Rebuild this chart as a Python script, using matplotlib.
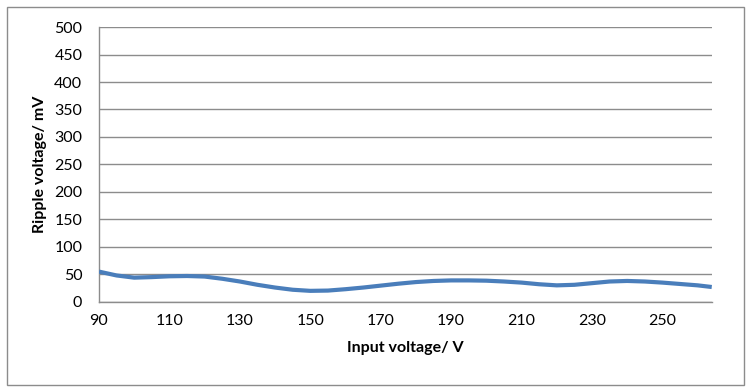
import matplotlib
matplotlib.use('Agg')
import matplotlib.pyplot as plt
from matplotlib.patches import Rectangle

# Input voltage (V) and ripple voltage (mV)
input_v = [90, 95, 100, 105, 110, 115, 120, 125, 130, 135, 140, 145, 150, 155,
           160, 165, 170, 175, 180, 185, 190, 195, 200, 205, 210, 215, 220, 225,
           230, 235, 240, 245, 250, 255, 260, 264]
ripple_mv = [55, 48, 44, 45, 46.5, 47, 46, 42, 37, 31, 26, 22, 20, 20.5,
             23, 26, 29.5, 33, 36, 38, 39, 39, 38.5, 37, 35, 32, 30, 31,
             34, 37, 38, 37, 35, 32.5, 30, 27]
x_ticks = [90, 110, 130, 150, 170, 190, 210, 230, 250]
y_ticks = list(range(0, 501, 50))

plt.rcParams['font.family'] = ['Lato', 'DejaVu Sans']

fig = plt.figure(figsize=(7.5, 3.92), dpi=100)
ax = fig.add_axes([0.132, 0.230, 0.817, 0.701])

# Plot the ripple curve
ax.plot(input_v, ripple_mv, color='#4A7EBB', linewidth=3.0,
        solid_capstyle='butt', solid_joinstyle='round', zorder=3)

ax.set_xlim(90, 264)
ax.set_ylim(0, 500)
ax.set_xticks(x_ticks)
ax.set_yticks(y_ticks)
ax.tick_params(axis='both', length=0, labelsize=11.5)
ax.tick_params(axis='y', pad=12)
ax.tick_params(axis='x', pad=9)

# Excel-like gridlines
ax.grid(axis='y', color='#8C8C8C', linewidth=1.0)
ax.set_axisbelow(True)
for side in ['top', 'right']:
    ax.spines[side].set_visible(False)
for side in ['left', 'bottom']:
    ax.spines[side].set_color('#8C8C8C')
    ax.spines[side].set_linewidth(1.0)

ax.set_xlabel('Input voltage/ V', fontsize=11.5, fontweight='bold', labelpad=9)
ax.set_ylabel('Ripple voltage/ mV', fontsize=11.5, fontweight='bold', labelpad=5)

# Chart border
fig.patches.append(Rectangle((0.009, 0.018), 0.983, 0.965, transform=fig.transFigure,
                             fill=False, edgecolor='#8C8C8C', linewidth=1.0))

fig.savefig('out.png', dpi=100)
